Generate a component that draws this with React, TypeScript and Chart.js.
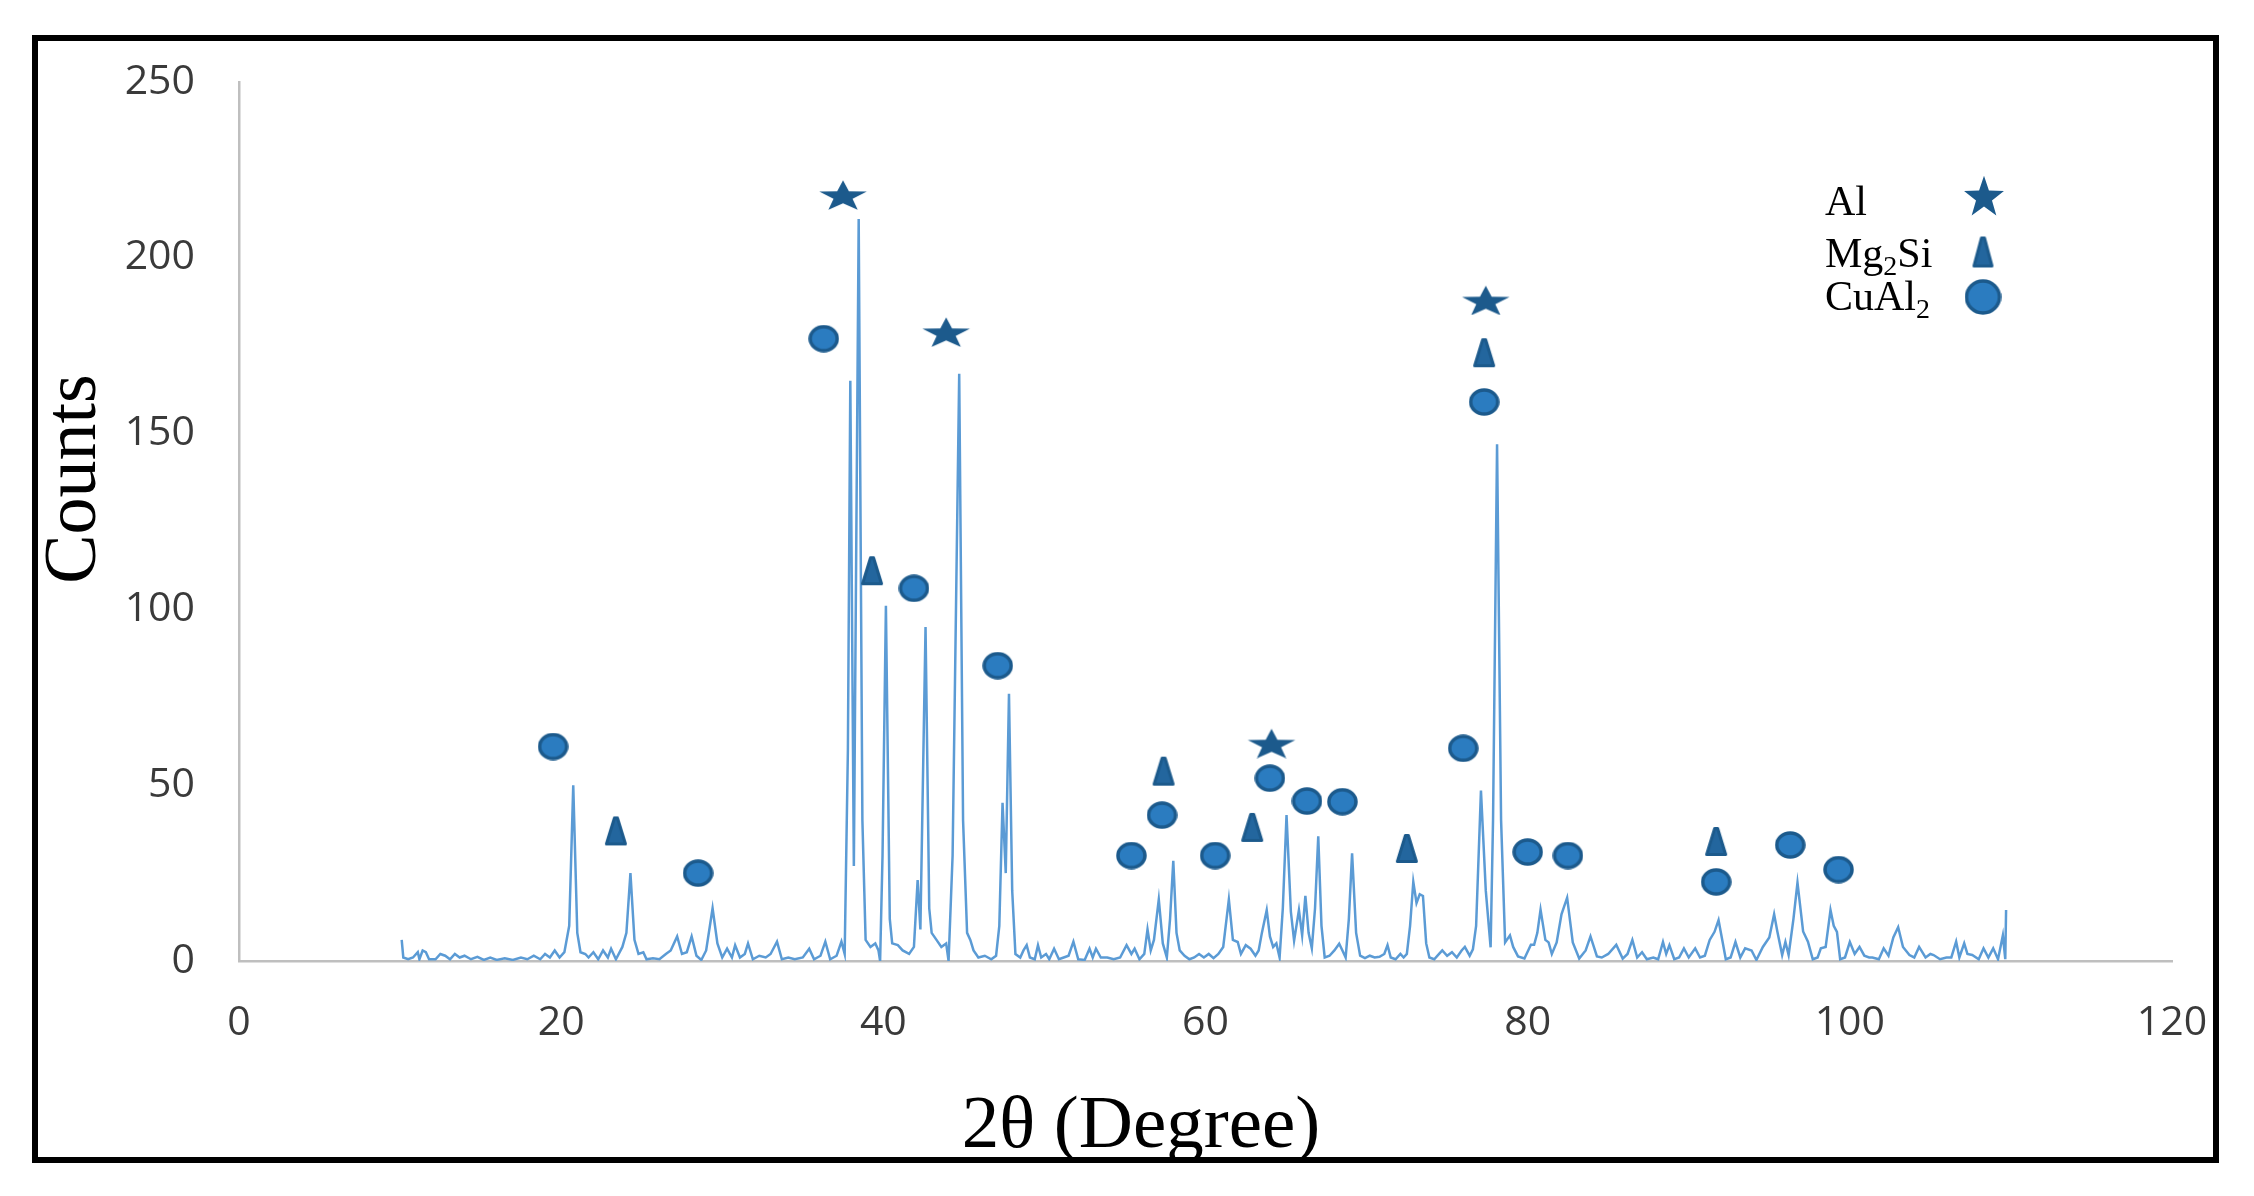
import React, { useEffect, useRef } from 'react';
import { Chart, registerables } from 'chart.js';

Chart.register(...registerables);

// XRD scan: [2θ, counts]
const scan: [number, number][] = [
  [10.1, 6], [10.2, 1], [10.5, 0.5], [10.8, 1], [11.1, 2.5], [11.2, 0.5], [11.4, 3], [11.6, 2.5],
  [11.8, 0.5], [12.2, 0.5], [12.5, 2], [12.8, 1.5], [13.1, 0.5], [13.4, 2], [13.7, 1], [14.0, 1.5],
  [14.4, 0.5], [14.8, 1.2], [15.2, 0.3], [15.6, 1], [16.0, 0.3], [16.5, 0.8], [17.0, 0.3], [17.5, 1],
  [17.9, 0.5], [18.3, 1.5], [18.7, 0.5], [19.0, 2], [19.3, 1], [19.6, 3], [19.9, 1], [20.2, 2.5],
  [20.5, 10], [20.75, 50], [21.0, 8], [21.2, 2.5], [21.5, 2], [21.7, 1], [22.0, 2.5], [22.3, 0.5],
  [22.6, 3], [22.9, 1], [23.1, 3.5], [23.4, 0.5], [23.8, 4], [24.05, 8], [24.3, 25], [24.55, 6],
  [24.8, 2], [25.1, 2.5], [25.3, 0.5], [25.7, 0.8], [26.1, 0.5], [26.5, 2], [26.8, 3], [27.2, 7],
  [27.5, 2], [27.8, 2.5], [28.1, 7], [28.4, 1.5], [28.7, 0.3], [29.0, 3], [29.4, 15], [29.7, 5],
  [30.0, 1], [30.3, 3.5], [30.6, 1], [30.8, 4.5], [31.1, 1], [31.4, 2], [31.6, 5], [31.9, 0.5],
  [32.3, 1.5], [32.7, 1], [33.0, 2], [33.4, 5.5], [33.7, 0.5], [34.1, 1], [34.5, 0.5], [35.0, 1],
  [35.4, 3.5], [35.7, 0.5], [36.1, 1.5], [36.4, 5.5], [36.7, 0.5], [37.1, 1.5], [37.4, 5.5], [37.6, 2],
  [37.8, 60], [37.95, 165], [38.17, 27], [38.47, 211], [38.7, 40], [38.9, 6], [39.2, 4], [39.5, 5],
  [39.7, 3], [39.8, 0], [39.95, 30], [40.16, 101], [40.4, 12], [40.55, 5], [40.9, 4.5], [41.2, 3],
  [41.6, 2], [41.9, 4], [42.13, 23], [42.3, 9], [42.62, 95], [42.85, 15], [43.0, 8], [43.3, 6],
  [43.6, 4], [43.9, 5], [44.05, 0], [44.3, 30], [44.71, 167], [44.95, 40], [45.2, 8], [45.4, 6],
  [45.6, 3], [45.9, 1], [46.3, 1.5], [46.7, 0.5], [47.0, 1.5], [47.2, 10], [47.4, 45], [47.6, 25],
  [47.8, 76], [48.0, 20], [48.2, 2], [48.5, 1], [48.7, 3], [48.9, 4.5], [49.1, 1], [49.4, 0.5],
  [49.6, 4.5], [49.8, 1], [50.1, 2], [50.3, 0.5], [50.6, 3.5], [50.9, 0.5], [51.2, 1], [51.5, 1.5],
  [51.8, 5.5], [52.1, 0.5], [52.5, 0.3], [52.8, 3.5], [53.0, 1], [53.2, 3.5], [53.5, 1], [53.9, 1],
  [54.3, 0.5], [54.7, 1], [55.1, 4.5], [55.4, 2], [55.6, 3.5], [55.9, 0.5], [56.2, 2], [56.4, 9],
  [56.6, 3], [56.8, 6], [57.1, 17.5], [57.35, 5], [57.6, 1], [57.8, 12], [58.0, 28.5], [58.2, 8],
  [58.4, 3], [58.7, 1.5], [59.0, 0.5], [59.3, 1], [59.6, 2], [59.9, 1], [60.2, 2], [60.5, 0.8],
  [60.8, 2], [61.1, 4], [61.45, 17.5], [61.7, 6], [62.0, 5.4], [62.2, 2], [62.5, 4.5], [62.8, 3.5],
  [63.1, 1.5], [63.3, 3], [63.5, 8], [63.8, 14.5], [64.0, 7], [64.2, 4], [64.4, 5], [64.6, 1],
  [64.8, 15], [65.03, 41.5], [65.3, 14], [65.5, 5.8], [65.8, 14.5], [66.0, 7.3], [66.2, 18.5], [66.4, 8],
  [66.6, 3.6], [66.8, 15], [67.0, 35.5], [67.2, 10], [67.4, 1], [67.7, 1.5], [68.0, 3], [68.3, 4.9],
  [68.5, 3], [68.7, 1], [68.9, 12], [69.1, 30.6], [69.35, 8], [69.6, 1.5], [69.9, 0.8], [70.2, 1.5],
  [70.5, 1], [70.8, 1.2], [71.1, 2], [71.3, 4.5], [71.5, 1], [71.8, 0.5], [72.1, 2], [72.3, 1],
  [72.5, 2], [72.7, 10], [72.9, 22.5], [73.1, 16.5], [73.3, 19], [73.5, 18.5], [73.7, 5], [73.9, 1],
  [74.2, 0.5], [74.5, 2], [74.7, 3], [75.0, 1.5], [75.3, 2.5], [75.6, 1], [75.9, 3], [76.1, 4],
  [76.4, 1.5], [76.6, 3.3], [76.8, 10], [77.1, 48.5], [77.4, 20], [77.7, 3.9], [77.85, 40], [78.1, 147],
  [78.35, 40], [78.6, 5.3], [78.9, 7.3], [79.1, 4], [79.4, 1.3], [79.8, 0.7], [80.2, 4.6], [80.4, 4.6],
  [80.6, 8], [80.8, 14.6], [81.1, 6], [81.3, 5.3], [81.5, 2], [81.8, 5.3], [82.1, 13.3], [82.45, 18],
  [82.8, 5.3], [83.2, 0.7], [83.6, 3], [83.9, 7], [84.3, 1.3], [84.6, 1], [85.0, 2], [85.5, 4.6],
  [85.9, 0.7], [86.2, 2], [86.5, 6], [86.8, 1], [87.1, 2.5], [87.4, 0.5], [87.8, 1], [88.1, 0.5],
  [88.4, 5.4], [88.6, 2], [88.8, 4.5], [89.1, 0.5], [89.4, 1], [89.7, 3.6], [90.0, 1], [90.4, 3.6],
  [90.7, 1], [91.0, 1.5], [91.3, 6], [91.6, 8.3], [91.85, 11.6], [92.1, 5.5], [92.3, 0.5], [92.6, 1],
  [92.9, 5.4], [93.2, 1], [93.5, 3.6], [93.9, 3], [94.2, 0.3], [94.6, 4], [95.0, 6.7], [95.3, 13.3],
  [95.5, 8.4], [95.8, 1.7], [96.0, 5.4], [96.2, 1.7], [96.5, 12], [96.75, 22.3], [97.1, 8.4], [97.4, 5.5],
  [97.7, 0.5], [98.0, 1], [98.2, 3.6], [98.5, 4], [98.8, 14.5], [99.0, 10], [99.2, 8.3], [99.4, 0.5],
  [99.7, 1], [100.0, 5.4], [100.3, 2], [100.6, 4], [100.9, 1.5], [101.2, 1], [101.4, 1], [101.8, 0.5],
  [102.1, 3.6], [102.4, 1.5], [102.7, 6.7], [103.0, 9.6], [103.3, 4], [103.7, 1.7], [104.0, 1], [104.3, 4],
  [104.7, 1], [105.0, 2], [105.2, 1.7], [105.6, 0.5], [106.0, 1], [106.3, 1], [106.6, 5.5], [106.8, 1],
  [107.1, 5], [107.3, 2], [107.6, 1.7], [108.0, 0.5], [108.3, 3.6], [108.6, 1], [108.9, 3.6], [109.2, 0.5],
  [109.5, 7.3], [109.65, 0.5], [109.7, 14.5],
];

// phase markers placed above the peaks: [2θ, counts]
const alMarks: [number, number][] = [[37.5, 218], [43.9, 179], [64.1, 62], [77.4, 188]];
const mg2siMarks: [number, number][] = [
  [23.4, 37], [39.3, 111], [57.4, 54], [62.9, 38], [72.5, 32], [77.3, 173], [91.7, 34],
];
const cual2Marks: [number, number][] = [
  [19.5, 61], [28.5, 25], [36.3, 177], [41.9, 106], [47.1, 84], [55.4, 30], [57.3, 41.5],
  [60.6, 30], [64.0, 52], [66.3, 45.5], [68.5, 45.3], [76.0, 60.5], [77.3, 159], [80.0, 31],
  [82.5, 30], [91.7, 22.5], [96.3, 33], [99.3, 26],
];

const xTicks = { min: 0, max: 120, step: 20 };
const yTicks = { min: 0, max: 250, step: 50 };

const W = 2254;
const H = 1196;
const LINE = '#5b9bd5';
const DARK = '#1c5a8c';
const TICK_FONT = { family: "'Open Sans', 'Liberation Sans', sans-serif", size: 41 };
const SERIF = "'Liberation Serif', 'Times New Roman', serif";

const toXY = (pts: [number, number][]) => pts.map(([x, y]) => ({ x, y }));

function makeStar(w: number, h: number) {
  const c = document.createElement('canvas');
  c.width = w;
  c.height = h;
  const ctx = c.getContext('2d')!;
  const rx = w / 1.902;
  const ry = h / 1.809;
  const cx = w / 2;
  const cy = ry + 0.5;
  ctx.beginPath();
  for (let i = 0; i < 10; i++) {
    const a = -Math.PI / 2 + (i * Math.PI) / 5;
    const k = i % 2 === 0 ? 1 : 0.4;
    const px = cx + Math.cos(a) * rx * k * 0.95;
    const py = cy + Math.sin(a) * ry * k * 0.95;
    if (i === 0) ctx.moveTo(px, py);
    else ctx.lineTo(px, py);
  }
  ctx.closePath();
  ctx.fillStyle = DARK;
  ctx.fill();
  return c;
}

function makeTriangle(w: number, h: number) {
  const c = document.createElement('canvas');
  c.width = w;
  c.height = h;
  const ctx = c.getContext('2d')!;
  ctx.beginPath();
  ctx.moveTo(w / 2 - 1.5, 2.5);
  ctx.lineTo(w / 2 + 1.5, 2.5);
  ctx.lineTo(w - 2.5, h - 2.5);
  ctx.lineTo(2.5, h - 2.5);
  ctx.closePath();
  ctx.lineJoin = 'round';
  ctx.lineWidth = 3;
  ctx.fillStyle = '#23669e';
  ctx.strokeStyle = DARK;
  ctx.fill();
  ctx.stroke();
  return c;
}

function makeCircle(w: number, h: number) {
  const c = document.createElement('canvas');
  c.width = w;
  c.height = h;
  const ctx = c.getContext('2d')!;
  ctx.beginPath();
  ctx.ellipse(w / 2, h / 2, w / 2 - 2, h / 2 - 2, 0, 0, Math.PI * 2);
  ctx.lineWidth = 3.5;
  ctx.fillStyle = '#2b7cc0';
  ctx.strokeStyle = DARK;
  ctx.fill();
  ctx.stroke();
  return c;
}

type Part = { t: string; sub?: boolean };

function drawRich(ctx: CanvasRenderingContext2D, parts: Part[], x: number, y: number) {
  let cx = x;
  for (const p of parts) {
    ctx.font = p.sub ? `28px ${SERIF}` : `42px ${SERIF}`;
    ctx.fillText(p.t, cx, p.sub ? y + 8 : y);
    cx += ctx.measureText(p.t).width;
  }
}

const App = () => {
  const canvasRef = useRef<HTMLCanvasElement>(null);

  useEffect(() => {
    document.body.style.margin = '0';
    const starPt = makeStar(50, 31);
    const triPt = makeTriangle(24, 31);
    const circPt = makeCircle(31, 28);
    const starLg = makeStar(42, 42);
    const triLg = makeTriangle(23, 33);
    const circLg = makeCircle(37, 36);

    const decor = {
      id: 'decor',
      afterDraw(chart: Chart) {
        const ctx = chart.ctx;
        ctx.save();
        ctx.fillStyle = '#000';
        ctx.textBaseline = 'alphabetic';

        // axis titles
        ctx.font = `75px ${SERIF}`;
        ctx.textAlign = 'center';
        ctx.fillText('2θ (Degree)', 1141, 1147);
        ctx.save();
        ctx.translate(95, 479);
        ctx.rotate(-Math.PI / 2);
        ctx.font = `74px ${SERIF}`;
        ctx.fillText('Counts', 0, 0);
        ctx.restore();

        // phase legend
        ctx.textAlign = 'left';
        drawRich(ctx, [{ t: 'Al' }], 1825, 215);
        drawRich(ctx, [{ t: 'Mg' }, { t: '2', sub: true }, { t: 'Si' }], 1825, 267);
        drawRich(ctx, [{ t: 'CuAl' }, { t: '2', sub: true }], 1825, 310);
        ctx.drawImage(starLg, 1984 - starLg.width / 2, 195 - starLg.height / 2);
        ctx.drawImage(triLg, 1983 - triLg.width / 2, 252 - triLg.height / 2);
        ctx.drawImage(circLg, 1983 - circLg.width / 2, 297 - circLg.height / 2);

        // outer frame
        ctx.lineWidth = 6;
        ctx.strokeStyle = '#000';
        ctx.strokeRect(35, 38, 2181, 1122);
        ctx.restore();
      },
    };

    const chart = new Chart(canvasRef.current!, {
      type: 'scatter',
      data: {
        datasets: [
          {
            label: 'Al',
            data: toXY(alMarks),
            pointStyle: starPt,
            pointRadius: 12,
            order: 1,
          },
          {
            label: 'Mg2Si',
            data: toXY(mg2siMarks),
            pointStyle: triPt,
            pointRadius: 12,
            order: 1,
          },
          {
            label: 'CuAl2',
            data: toXY(cual2Marks),
            pointStyle: circPt,
            pointRadius: 12,
            order: 1,
          },
          {
            label: 'Scan',
            data: toXY(scan),
            showLine: true,
            borderColor: LINE,
            borderWidth: 2.5,
            pointRadius: 0,
            tension: 0,
            order: 2,
          },
        ],
      },
      options: {
        animation: false,
        responsive: true,
        maintainAspectRatio: false,
        events: [],
        layout: { padding: { left: 0, top: 82, right: 82, bottom: 0 } },
        plugins: { legend: { display: false }, tooltip: { enabled: false } },
        scales: {
          x: {
            type: 'linear',
            min: xTicks.min,
            max: xTicks.max,
            ticks: { stepSize: xTicks.step, font: TICK_FONT, color: '#3a3a3a', padding: 38 },
            grid: { display: false, drawTicks: false },
            border: { display: true, color: '#bfbfbf', width: 2.5 },
            afterFit: (s: any) => {
              s.height = H - 961;
            },
          },
          y: {
            min: yTicks.min,
            max: yTicks.max,
            ticks: { stepSize: yTicks.step, font: TICK_FONT, color: '#3a3a3a', padding: 44 },
            grid: { display: false, drawTicks: false },
            border: { display: true, color: '#bfbfbf', width: 2.5 },
            afterFit: (s: any) => {
              s.width = 239;
            },
          },
        },
      },
      plugins: [decor],
    });

    return () => {
      chart.destroy();
    };
  }, []);

  return (
    <div style={{ position: 'relative', width: W, height: H, background: '#fff', overflow: 'hidden' }}>
      <canvas ref={canvasRef} />
    </div>
  );
};

export default App;
